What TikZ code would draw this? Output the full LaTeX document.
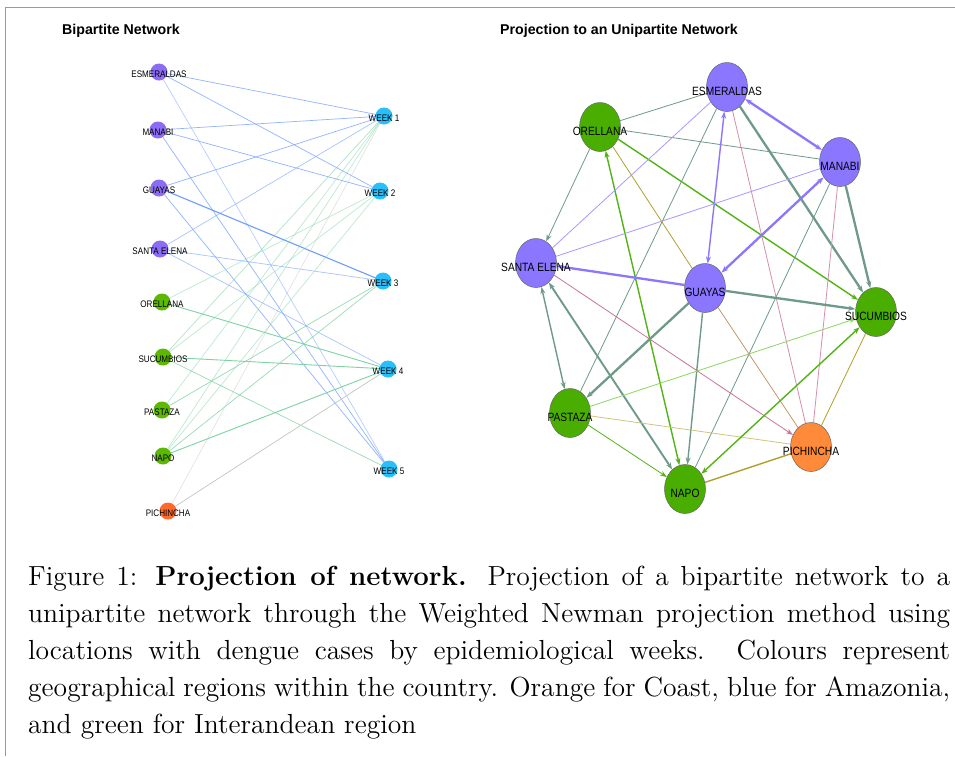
\documentclass[tikz,border=0pt]{standalone}
\usepackage{fontspec}
\newfontfamily\netfont[FakeStretch=0.85]{Liberation Sans}
\newfontfamily\headfont{Liberation Sans}
\newfontfamily\capfont[Extension=.otf, BoldFont=lmroman12-bold]{lmroman12-regular}
\usepackage{tikz}
\usetikzlibrary{shapes.geometric}
\usetikzlibrary{arrows.meta}
\usetikzlibrary{backgrounds}
\definecolor{framegray}{HTML}{8E9BB0}
\definecolor{locpurple}{HTML}{8B6CF4}
\definecolor{locgreen}{HTML}{5CB800}
\definecolor{locorange}{HTML}{FF6A2C}
\definecolor{weekblue}{HTML}{29BFFA}
\definecolor{bluelink}{HTML}{6E9CFF}
\definecolor{greenlink}{HTML}{7DD3A4}
\definecolor{graylink}{HTML}{C4C4C4}
\definecolor{projpurple}{HTML}{8A76FF}
\definecolor{projgreen}{HTML}{4AAE00}
\definecolor{projorange}{HTML}{FF8A3A}
\definecolor{sage}{HTML}{6F9A88}
\definecolor{lilac}{HTML}{A898FF}
\definecolor{leaf}{HTML}{52B414}
\definecolor{paleleaf}{HTML}{8CD660}
\definecolor{olivelink}{HTML}{B0A02C}
\definecolor{khakilink}{HTML}{D2C47E}
\definecolor{roselink}{HTML}{D68EAE}
\definecolor{mauvelink}{HTML}{C87494}
\definecolor{tanlink}{HTML}{C49466}
\tikzstyle{bnode}=[circle, inner sep=0pt, minimum size=17pt]
\tikzstyle{bpurple}=[bnode, fill=locpurple]
\tikzstyle{bgreen}=[bnode, fill=locgreen]
\tikzstyle{borange}=[bnode, fill=locorange]
\tikzstyle{bweek}=[bnode, fill=weekblue]
\tikzstyle{blbl}=[font=\netfont\fontsize{9.5}{10}\selectfont, inner sep=0pt, yshift=-2pt]
\tikzstyle{unode}=[ellipse, draw=black!60, line width=0.5pt, inner sep=0pt, minimum width=41pt, minimum height=49pt]
\tikzstyle{upurple}=[unode, fill=projpurple]
\tikzstyle{ugreen}=[unode, fill=projgreen]
\tikzstyle{uorange}=[unode, fill=projorange]
\tikzstyle{ulbl}=[font=\netfont\fontsize{12}{12}\selectfont, inner sep=0pt, yshift=-4pt]
\tikzstyle{blue link}=[bluelink, line width=0.7pt, opacity=0.75]
\tikzstyle{green link}=[greenlink, line width=0.7pt, opacity=0.8]
\tikzstyle{thin}=[line width=0.8pt]
\tikzstyle{mid}=[line width=1.4pt]
\tikzstyle{heavy}=[line width=2.3pt]
\tikzstyle{onearr}=[-{Stealth[length=7pt,width=5pt]}]
\tikzstyle{twoarr}=[{Stealth[length=7pt,width=5pt]}-{Stealth[length=7pt,width=5pt]}]

\begin{document}
\begin{tikzpicture}[x=1pt, y=-1pt]
        \useasboundingbox (0,0) rectangle (955,756);

        \node[anchor=base west, inner sep=0pt, font=\headfont\bfseries\fontsize{14.2}{16}\selectfont] (titleA) at (62,34) {Bipartite Network};
        \node[anchor=base west, inner sep=0pt, font=\headfont\bfseries\fontsize{14.2}{16}\selectfont] (titleB) at (500,34) {Projection to an Unipartite Network};

        % bipartite network
        \node[bpurple, label={[blbl]center:ESMERALDAS}] (bEsm) at (159,72) {};
        \node[bpurple, label={[blbl]center:MANABI}] (bMan) at (158,130) {};
        \node[bpurple, label={[blbl]center:GUAYAS}] (bGua) at (159,188) {};
        \node[bpurple, label={[blbl]center:SANTA ELENA}] (bSta) at (160,249) {};
        \node[bgreen, label={[blbl]center:ORELLANA}] (bOre) at (162,302) {};
        \node[bgreen, label={[blbl]center:SUCUMBIOS}] (bSuc) at (163,357) {};
        \node[bgreen, label={[blbl]center:PASTAZA}] (bPas) at (162,410) {};
        \node[bgreen, label={[blbl]center:NAPO}] (bNap) at (163,456) {};
        \node[borange, label={[blbl]center:PICHINCHA}] (bPic) at (168,511) {};
        \node[bweek, label={[blbl]center:WEEK 1}] (w1) at (384,116) {};
        \node[bweek, label={[blbl]center:WEEK 2}] (w2) at (380,191) {};
        \node[bweek, label={[blbl]center:WEEK 3}] (w3) at (383,281) {};
        \node[bweek, label={[blbl]center:WEEK 4}] (w4) at (388,369) {};
        \node[bweek, label={[blbl]center:WEEK 5}] (w5) at (389,469) {};

        % unipartite network
        \node[upurple, label={[ulbl]center:ESMERALDAS}] (uEsm) at (727,87) {};
        \node[ugreen, label={[ulbl]center:ORELLANA}] (uOre) at (600,127) {};
        \node[upurple, label={[ulbl]center:MANABI}] (uMan) at (840,162) {};
        \node[upurple, label={[ulbl]center:SANTA ELENA}] (uSta) at (536,263) {};
        \node[upurple, label={[ulbl]center:GUAYAS}] (uGua) at (705,288) {};
        \node[ugreen, label={[ulbl]center:SUCUMBIOS}] (uSuc) at (876,312) {};
        \node[ugreen, label={[ulbl]center:PASTAZA}] (uPas) at (570,413) {};
        \node[uorange, label={[ulbl]center:PICHINCHA}] (uPic) at (811,447) {};
        \node[ugreen, label={[ulbl]center:NAPO}] (uNap) at (685,489) {};

        \node[anchor=north west, inner sep=0pt, text width=922pt, align=justify,
              font=\capfont\fontsize{27.6}{37}\selectfont] (caption) at (28,566)
              {Figure 1: \textbf{Projection of network.} Projection of a bipartite network to a\linebreak
               unipartite network through the Weighted Newman projection method using\linebreak
               locations with dengue cases by epidemiological weeks. Colours represent\linebreak
               geographical regions within the country. Orange for Coast, blue for Amazonia,\linebreak
               and green for Interandean region};

        \begin{scope}[on background layer]
        \fill[white] (0,0) rectangle (955,756);
        \draw[framegray, line width=1pt] (5,756) -- (5,7) -- (955,7);

        \draw[blue link] (bEsm) -- (w1);
        \draw[blue link] (bEsm) -- (w2);
        \draw[blue link, opacity=0.5] (bEsm) -- (w5);
        \draw[blue link] (bMan) -- (w1);
        \draw[blue link] (bMan) -- (w2);
        \draw[blue link] (bMan) -- (w5);
        \draw[blue link] (bGua) -- (w1);
        \draw[blue link, line width=1.1pt, opacity=1] (bGua) -- (w3);
        \draw[blue link] (bGua) -- (w5);
        \draw[blue link, opacity=0.6] (bSta) -- (w1);
        \draw[blue link, opacity=0.6] (bSta) -- (w3);
        \draw[blue link, opacity=0.6] (bSta) -- (w4);
        \draw[green link, opacity=0.5] (bOre) -- (w2);
        \draw[green link, line width=0.9pt, opacity=1] (bOre) -- (w4);
        \draw[green link, opacity=0.6] (bSuc) -- (w1);
        \draw[green link, opacity=0.5] (bSuc) -- (w2);
        \draw[green link, line width=0.9pt, opacity=1] (bSuc) -- (w4);
        \draw[green link] (bSuc) -- (w5);
        \draw[green link, opacity=0.5] (bPas) -- (w1);
        \draw[green link] (bPas) -- (w3);
        \draw[green link, opacity=0.5] (bNap) -- (w1);
        \draw[green link, opacity=0.5] (bNap) -- (w2);
        \draw[green link] (bNap) -- (w3);
        \draw[green link, line width=0.9pt, opacity=1] (bNap) -- (w4);
        \draw[graylink, line width=0.5pt, opacity=0.6] (bPic) -- (w1);
        \draw[graylink, line width=0.7pt] (bPic) -- (w4);

        \draw[sage, thin] (uOre) -- (uEsm);
        \draw[sage, thin] (uOre) -- (uMan);
        \draw[sage, thin, onearr] (uOre) -- (uSta);
        \draw[leaf, mid, onearr] (uOre) -- (uSuc);
        \draw[olivelink, thin] (uOre) -- (uGua);
        \draw[leaf, mid, twoarr] (uOre) -- (uNap);
        \draw[lilac, thin] (uEsm) -- (uSta);
        \draw[sage, thin] (uEsm) -- (uPas);
        \draw[projpurple, mid, twoarr] (uEsm) -- (uGua);
        \draw[roselink, thin] (uEsm) -- (uPic);
        \draw[projpurple, heavy, twoarr] (uEsm) -- (uMan);
        \draw[sage, heavy, onearr] (uEsm) -- (uSuc);
        \draw[projpurple, heavy, twoarr] (uMan) -- (uGua);
        \draw[lilac, thin] (uMan) -- (uSta);
        \draw[sage, heavy, onearr] (uMan) -- (uSuc);
        \draw[roselink, thin] (uMan) -- (uPic);
        \draw[sage, thin] (uMan) -- (uNap);
        \draw[projpurple, heavy, onearr] (uGua) -- (uSta);
        \draw[sage, heavy, onearr] (uGua) -- (uSuc);
        \draw[sage, heavy, onearr] (uGua) -- (uPas);
        \draw[sage, mid, onearr] (uGua) -- (uNap);
        \draw[tanlink, thin] (uGua) -- (uPic);
        \draw[mauvelink, thin, onearr] (uSta) -- (uPic);
        \draw[sage, mid, twoarr] (uSta) -- (uPas);
        \draw[sage, line width=1.9pt, twoarr] (uNap) -- (uSta);
        \draw[paleleaf, thin, onearr] (uPas) -- (uSuc);
        \draw[khakilink, thin] (uPas) -- (uPic);
        \draw[leaf, thin, onearr] (uPas) -- (uNap);
        \draw[leaf, mid, twoarr] (uNap) -- (uSuc);
        \draw[olivelink, mid] (uNap) -- (uPic);
        \draw[olivelink, thin] (uPic) -- (uSuc);
        \end{scope}
    \end{tikzpicture}
\end{document}
